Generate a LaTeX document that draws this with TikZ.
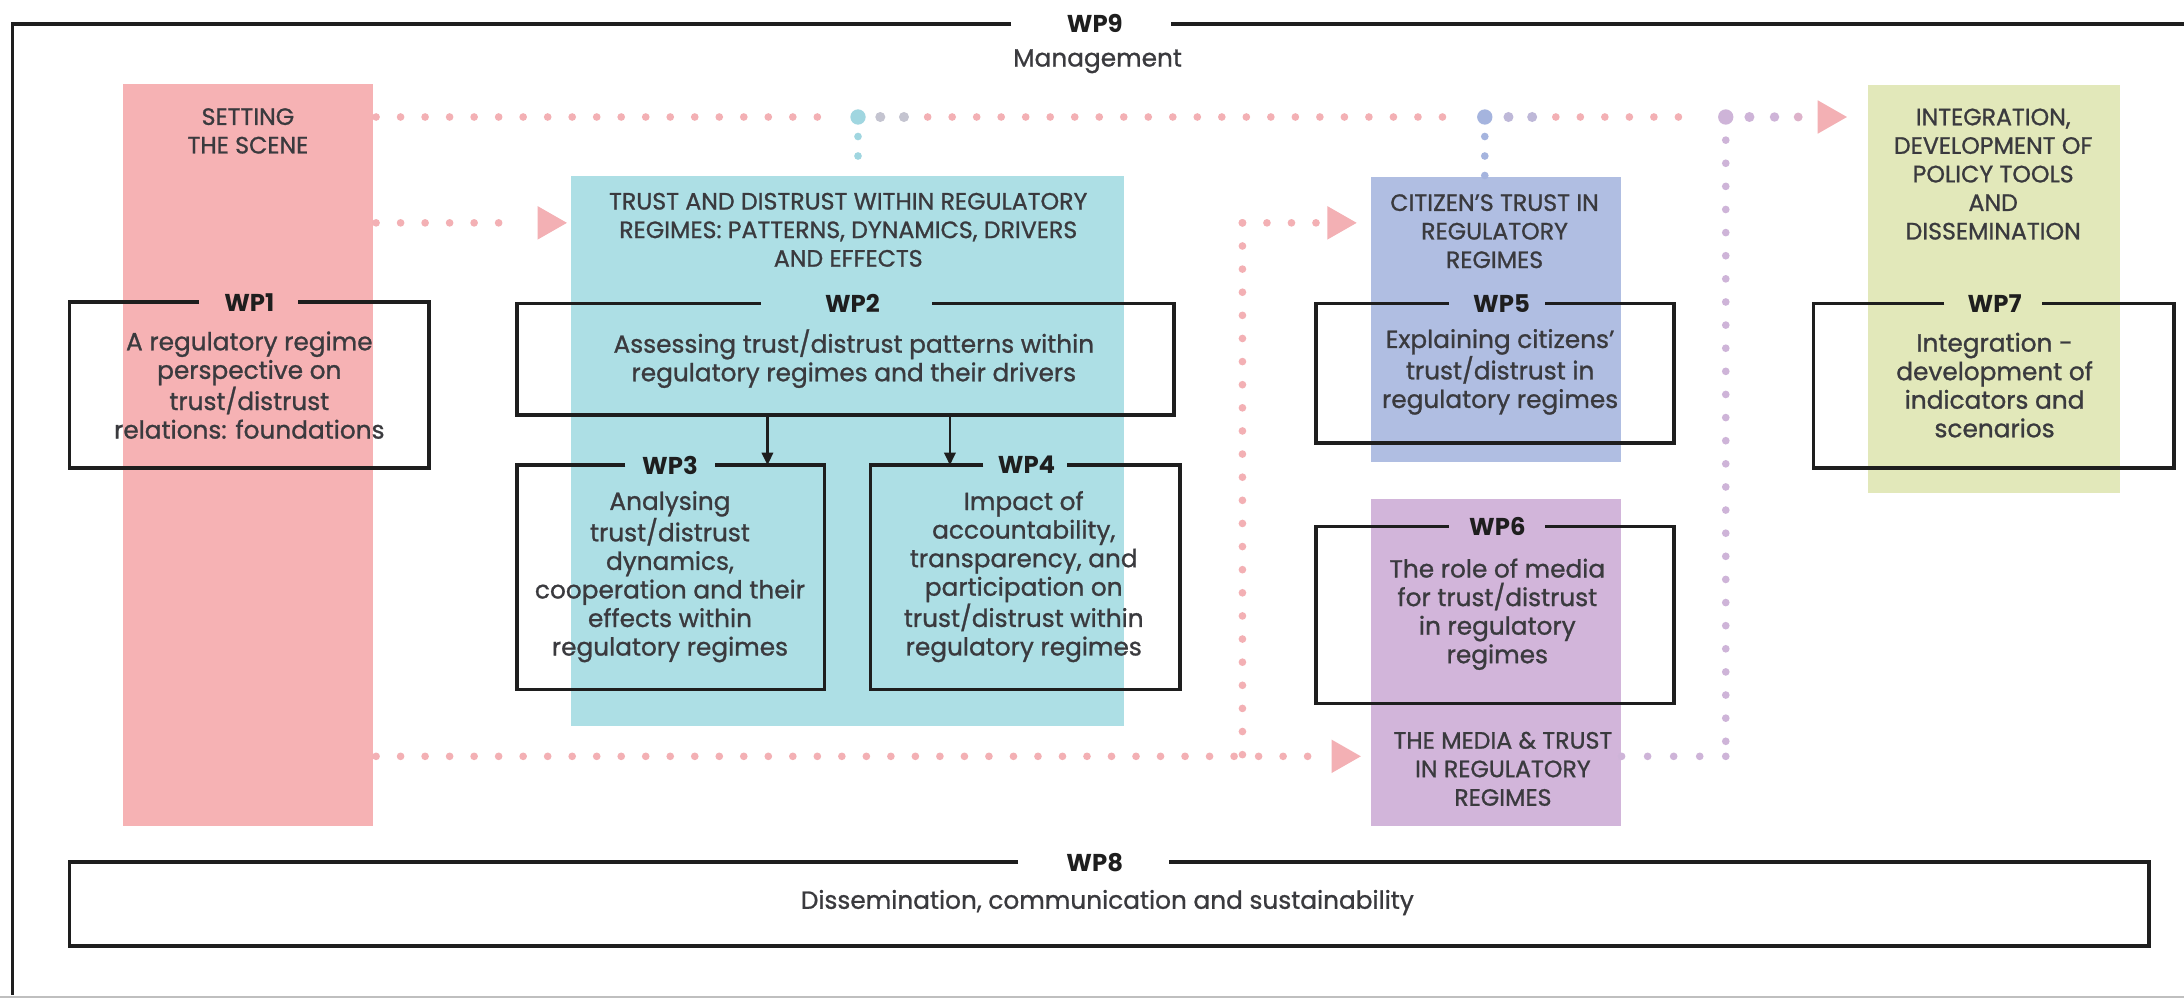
\documentclass[tikz,border=0pt]{standalone}
\usepackage{fontspec}
\setmainfont{Poppins}
\newfontfamily\medfam[FakeBold=1.0]{Poppins}
\usetikzlibrary{arrows.meta}
\definecolor{pinkc}{RGB}{246,178,180}
\definecolor{cyanc}{RGB}{173,223,229}
\definecolor{bluec}{RGB}{176,190,226}
\definecolor{purplec}{RGB}{210,181,218}
\definecolor{greenc}{RGB}{226,232,186}
\definecolor{dotpink}{RGB}{243,176,180}
\definecolor{dotcyan}{RGB}{160,214,224}
\definecolor{dotgray}{RGB}{196,196,208}
\definecolor{dotblue}{RGB}{165,180,222}
\definecolor{dotlilac}{RGB}{190,184,216}
\definecolor{dotpurple}{RGB}{206,180,216}
\definecolor{txt}{RGB}{58,58,62}
\definecolor{wpc}{RGB}{30,30,30}
\newcommand\bodfont{\medfam\fontsize{17.8}{20.5}\selectfont}
\newcommand\ttlfont{\medfam\fontsize{17}{20.5}\selectfont}
\newcommand\wpfont{\fontsize{17.5}{18}\selectfont\bfseries}
\tikzset{
  blk/.style={anchor=north west, inner sep=0pt, outer sep=0pt, draw=none},
  boxarea/.style={anchor=north west, inner sep=0pt, outer sep=0pt, draw=none},
  ttl/.style={align=center, font=\ttlfont, text=txt, inner sep=0pt},
  bod/.style={align=center, font=\bodfont, text=txt, inner sep=0pt},
  wpl/.style={font=\wpfont, text=wpc, inner sep=0pt},
  wpline/.style={line width=2.6pt, draw=wpc, line join=miter},
  frameline/.style={line width=2.8pt, draw=wpc},
  pdots/.style={line width=5.5pt, line cap=round, dash pattern=on 0pt off 17.6pt},
  vdots/.style={line width=5.5pt, line cap=round, dash pattern=on 0pt off 16.6pt},
  darr/.style={line width=2pt, draw=wpc, -{Triangle[length=9pt,width=8pt]}},
}
\newcommand\wpbox[9]{%
  \node[boxarea, minimum width={(#4-#2)*1pt}, minimum height={(#5-#3)*1pt}] (#1box) at (#2,#3) {};
  \node[wpl] (#1) at (#9,#3) {#8};
  \draw[wpline] (#6,#3) -- (#1box.north west) -- (#1box.south west) -- (#1box.south east) -- (#1box.north east) -- (#7,#3);
}
\begin{document}
\begin{tikzpicture}[x=1pt,y=-1pt]
\useasboundingbox (0,0) rectangle (1568,717);
\fill[white] (0,0) rectangle (1568,717);

% coloured blocks
\node[blk, fill=pinkc, minimum width=180pt, minimum height=533pt] (scene) at (88,60) {};
\node[blk, fill=cyanc, minimum width=397pt, minimum height=395pt] (trust) at (410,126) {};
\node[blk, fill=bluec, minimum width=180pt, minimum height=205pt] (citizen) at (984,127) {};
\node[blk, fill=purplec, minimum width=180pt, minimum height=235pt] (media) at (984,358) {};
\node[blk, fill=greenc, minimum width=181pt, minimum height=293pt] (integ) at (1341,61) {};

% block titles
\node[ttl] (scenet) at (178,94) {SETTING\\THE SCENE};
\node[ttl] (trustt) at (609,165) {TRUST AND DISTRUST WITHIN REGULATORY\\REGIMES: PATTERNS, DYNAMICS, DRIVERS\\AND EFFECTS};
\node[ttl] (citizent) at (1073,166) {CITIZEN’S TRUST IN\\REGULATORY\\REGIMES};
\node[ttl] (mediat) at (1079,552) {THE MEDIA \& TRUST\\IN REGULATORY\\REGIMES};
\node[ttl] (integt) at (1431,125) {INTEGRATION,\\DEVELOPMENT OF\\POLICY TOOLS\\AND\\DISSEMINATION};

% frame WP9
\node[wpl] (wp9) at (786,17) {WP9};
\node[bod] (mgmt) at (788,44) {Management};
\draw[frameline] (726,17) -- (9,17) -- (9,714);
\draw[frameline] (841,17) -- (1568,17);
\draw[black!25, line width=1.5pt] (0,715.5) -- (1568,715.5);

% dotted connectors
\coordinate (t0) at (270,84);
\coordinate (tc) at (616,84);
\coordinate (tb) at (1066,84);
\coordinate (tp) at (1239,84);
\coordinate (tend) at (1326,84);
\draw[pdots, draw=dotpink] (t0) -- (600,84);
\draw[pdots, draw=dotpink] (666,84) -- (1050,84);
\draw[pdots, draw=dotpink] (1117,84) -- (1222,84);
\fill[dotgray] (632,84) circle (3.6pt) (649,84) circle (3.6pt);
\fill[dotlilac] (1083,84) circle (3.6pt) (1100,84) circle (3.6pt);
\fill[dotpurple] (1256,84) circle (3.6pt) (1274,84) circle (3.4pt);
\fill[dotpurple!60!dotpink] (1291,84) circle (3.2pt);
\draw[vdots, draw=dotcyan, dash pattern=on 0pt off 14pt] (tc) -- (tc |- trust.north);
\draw[vdots, draw=dotblue, dash pattern=on 0pt off 14pt] (tb) -- (tb |- citizen.north);
\fill[dotcyan] (tc) circle (5.5pt);
\fill[dotblue] (tb) circle (5.5pt);
\draw[vdots, draw=dotpurple] (tp) -- (1239,543) coordinate (pb);
\draw[pdots, draw=dotpurple, dash pattern=on 0pt off 18.7pt] (pb) -- (pb -| media.east);
\fill[dotpurple] (tp) circle (5.5pt);
\fill[dotpink] (tend) -- ++(-21,-12) -- ++(0,24) -- cycle;

% middle arrow to trust block
\coordinate (m0) at (270,160);
\draw[pdots, draw=dotpink] (m0) -- (374,160);
\fill[dotpink] (trust.west |- m0) ++(-3,0) -- ++(-21,-12) -- ++(0,24) -- cycle;

% arrow to citizen block
\coordinate (v0) at (892,160);
\draw[vdots, draw=dotpink] (v0) -- (892,543);
\draw[pdots, draw=dotpink] (v0) -- (945,160);
\fill[dotpink] (citizen.west |- v0) ++(-10,0) -- ++(-21,-12) -- ++(0,24) -- cycle;

% bottom arrow to media block
\coordinate (b0) at (270,543);
\draw[pdots, draw=dotpink] (b0) -- (950,543);
\fill[dotpink] (media.west |- b0) ++(-7,0) -- ++(-21,-12) -- ++(0,24) -- cycle;

% WP boxes
\wpbox{wp1}{50}{217}{308}{336}{143}{214}{WP1}{179}
\wpbox{wp2}{371}{218}{843}{298}{546}{669}{WP2}{612}
\wpbox{wp3}{371}{334}{592}{495}{449}{513}{WP3}{481}
\wpbox{wp4}{625}{334}{847}{495}{706}{766}{WP4}{737}
\wpbox{wp5}{945}{218}{1202}{318}{1040}{1109}{WP5}{1078}
\wpbox{wp6}{945}{378}{1202}{505}{1040}{1109}{WP6}{1075}
\wpbox{wp7}{1302}{218}{1561}{336}{1396}{1466}{WP7}{1432}
\wpbox{wp8}{50}{619}{1543}{679}{731}{839}{WP8}{786}

% WP texts
\node[bod] (wp1t) at (179,276.5) {A regulatory regime\\perspective on\\trust/distrust\\relations: foundations};
\node[bod] (wp2t) at (613,257.5) {Assessing trust/distrust patterns within\\regulatory regimes and their drivers};
\node[bod] (wp3t) at (481,414) {Analysing\\trust/distrust\\dynamics,\\cooperation and their\\effects within\\regulatory regimes};
\node[bod] (wp4t) at (735,414) {Impact of\\accountability,\\transparency, and\\participation on\\trust/distrust within\\regulatory regimes};
\node[bod] (wp5t) at (1077,267) {Explaining citizens’\\trust/distrust in\\regulatory regimes};
\node[bod] (wp6t) at (1075,441) {The role of media\\for trust/distrust\\in regulatory\\regimes};
\node[bod] (wp7t) at (1432,276.5) {Integration -\\development of\\indicators and\\scenarios};
\node[bod] (wp8t) at (795,648) {Dissemination, communication and sustainability};

% WP2 -> WP3, WP4
\coordinate (a3) at (551,0);
\coordinate (a4) at (682,0);
\draw[darr] (a3 |- wp2box.south) -- (a3 |- wp3box.north);
\draw[darr] (a4 |- wp2box.south) -- (a4 |- wp4box.north);
\end{tikzpicture}
\end{document}
